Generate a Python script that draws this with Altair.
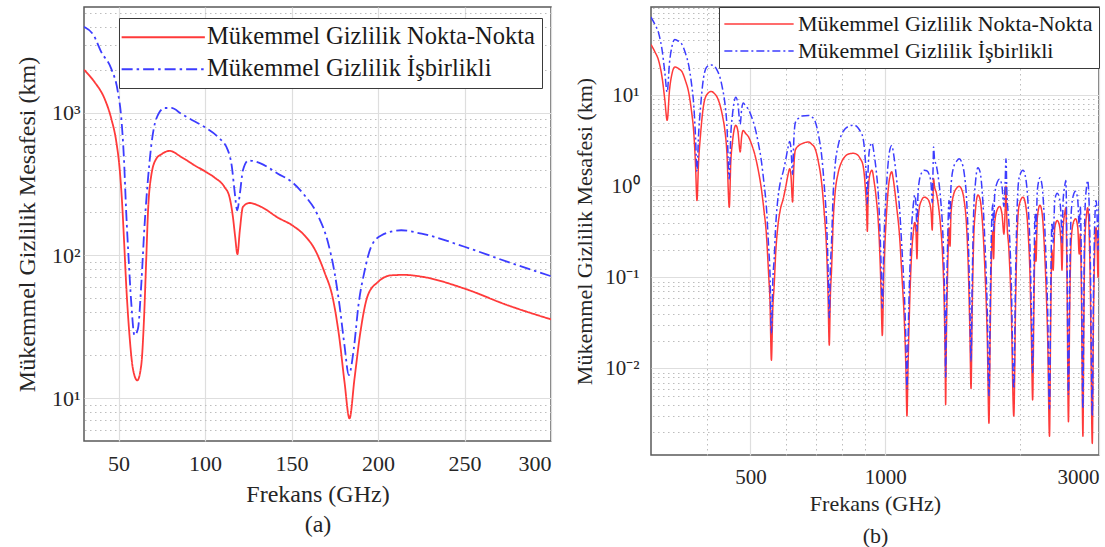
import altair as alt
import pandas as pd

SERIES = ["Mükemmel Gizlilik Nokta-Nokta", "Mükemmel Gizlilik İşbirlikli"]
RED = "#ff3a3a"
BLUE = "#3c3cff"
FONT = "Liberation Serif"
TXT = "#262626"

# ---------------- panel (a) data ----------------
a_red_f = [30, 36.1, 41.9, 45.8, 48.7, 50.6, 52.0, 53.1, 54.4, 56.3, 58.3, 60.8, 63.1, 64.7, 66.0,
           67.0, 68.9, 71.8, 74.7, 79.5, 86.2, 93.9, 99.7, 105.5, 111.2, 114.1, 116.1, 117.4,
           118.7, 120.1, 121.9, 125.7, 132.4, 142.1, 150.2, 157.5, 163.3, 169, 173.9, 177.7,
           180.6, 183.5, 186.4, 189.8, 194.1, 199.9, 207.6, 215.2, 225, 250, 275, 300]
a_red_v = [2000, 1641, 1254, 907, 623, 405, 237, 131, 62, 27.5, 16, 13.3, 17, 36, 95,
           201, 364, 476, 511, 540, 490, 428, 390, 351, 302, 257, 186, 135,
           102, 150, 219, 233, 219, 184, 163, 138, 111, 76.5, 49.8, 26,
           13, 7.2, 13.7, 29, 52.5, 65, 72.5, 73, 71, 58.5, 44.7, 35.6]
a_blue_f = [30, 35.5, 40, 45.8, 49.6, 51.6, 53.1, 54.4, 55.8, 57.3, 59.2, 61.2, 63.1, 65, 67,
            68.9, 71.8, 76.6, 80.4, 86.2, 90.1, 99.7, 107.4, 113.2, 115.5, 117, 118.6, 120.1,
            121.9, 125.1, 132.4, 142.1, 150.2, 157.5, 165.2, 171, 174.8, 177.7, 180.6, 183.1,
            186, 188.7, 192.1, 196, 201.8, 213.4, 225.2, 250, 275, 300]
a_blue_v = [4000, 3500, 2660, 2030, 1397, 907, 476, 201, 95, 47, 27.5, 30.6, 62, 162, 344,
            590, 907, 1079, 1080, 985, 922, 794, 676, 545, 417, 286, 207, 270,
            395, 463, 440, 374, 327, 264, 191, 124, 76.5, 45, 23.4, 14.5,
            22.2, 45, 76.5, 115, 138, 150, 142, 115, 90, 71.5]

# ---------------- panel (b) data ----------------
b_f = [300, 306, 312, 318, 322, 326, 330, 334, 339, 346, 352, 358, 364, 369, 374, 377, 380, 383,
       387, 393, 400, 409, 415, 421, 428, 433, 438, 443, 448.6, 452, 456, 464, 469, 474.5, 478,
       482, 488, 495, 503, 512, 520, 529, 536, 543, 549, 553, 557, 561, 565, 570, 575, 583, 592,
       600, 606, 612, 616, 621, 625, 630, 641, 652, 674, 685, 697, 710, 721, 730, 740, 745, 750,
       754, 759, 765, 772, 785, 799, 815, 833, 850, 869, 880, 892, 903, 908, 912, 916, 923, 934,
       945, 955, 965, 971, 978, 985, 992, 1005, 1015, 1022, 1034, 1042, 1049, 1060, 1076, 1090,
       1104, 1112, 1118, 1124, 1132, 1145, 1155, 1164, 1171, 1177, 1183, 1191, 1205, 1222, 1238,
       1254, 1266, 1273, 1278, 1282, 1288, 1300, 1315, 1330, 1343, 1353, 1360, 1364, 1369, 1378,
       1388, 1395, 1402, 1420, 1445, 1462, 1480, 1500, 1518, 1533, 1545, 1554, 1563, 1575, 1590,
       1610, 1628, 1648, 1668, 1690, 1704, 1716, 1728, 1738, 1745, 1755, 1780, 1800, 1822, 1840,
       1852, 1860, 1868, 1888, 1910, 1936, 1955, 1970, 1990, 2030, 2060, 2085, 2105, 2120, 2133,
       2146, 2160, 2170, 2185, 2215, 2240, 2262, 2285, 2305, 2326, 2340, 2355, 2370, 2390, 2420,
       2445, 2470, 2480, 2495, 2515, 2530, 2545, 2564, 2580, 2600, 2630, 2660, 2690, 2710, 2725,
       2740, 2762, 2775, 2790, 2815, 2830, 2850, 2870, 2898, 2915, 2935, 2955, 2970, 2985, 3000]
b_red_v = [36, 30, 24, 15, 9, 5.3, 11.5, 17, 20.4, 19.5, 18, 14.5, 10.8, 7, 3.7, 1.8, 0.70, 1.8,
           3.7, 7.7, 10.2, 11, 10.5, 9.6, 7.7, 6, 4.3, 2.4, 0.59, 1.8, 3.06, 4.67, 4.0, 2.38, 3.5,
           4.1, 3.8, 3.5, 2.9, 2.19, 1.55, 0.94, 0.55, 0.29, 0.11, 0.054, 0.0123, 0.045, 0.082, 0.2, 0.34, 0.55, 0.73,
           1.0, 1.3, 1.56, 1.3, 0.67, 1.6, 2.5, 2.8, 2.94, 3.06, 2.9, 2.6, 1.8, 1.1, 0.55, 0.19, 0.07, 0.018,
           0.06, 0.125, 0.4, 0.8, 1.4, 1.85, 2.15, 2.28, 2.3, 2.19, 2.0, 1.7, 0.94, 0.6, 0.32, 0.8, 1.32, 1.5,
           1.1, 0.73, 0.4, 0.22, 0.08, 0.023, 0.1, 0.44, 0.9, 1.21, 1.44, 1.2, 0.94, 0.6, 0.29, 0.1,
           0.03, 0.01, 0.003, 0.01, 0.04, 0.18, 0.31, 0.4, 0.32, 0.16, 0.4, 0.57, 0.7, 0.76, 0.74,
           0.67, 0.52, 0.33, 0.7, 1.21, 1.0, 0.85, 0.6, 0.35, 0.17, 0.06, 0.015, 0.004, 0.02, 0.12,
           0.35, 0.22, 0.5, 0.8, 0.96, 1.0, 0.93, 0.7, 0.38, 0.12, 0.025, 0.006, 0.04, 0.25, 0.55,
           0.8, 0.72, 0.4, 0.13, 0.02, 0.0025, 0.03, 0.2, 0.32, 0.16, 0.4, 0.56, 0.6, 0.5, 0.3,
           0.55, 1.0, 0.45, 0.2, 0.05, 0.003, 0.06, 0.3, 0.62, 0.76, 0.6, 0.3, 0.1, 0.02, 0.0045,
           0.04, 0.25, 0.15, 0.45, 0.62, 0.5, 0.25, 0.08, 0.02, 0.0018, 0.03, 0.2, 0.12, 0.35, 0.42,
           0.38, 0.22, 0.12, 0.35, 0.5, 0.58, 0.1, 0.0026, 0.04, 0.25, 0.4, 0.44, 0.35, 0.18, 0.3,
           0.08, 0.0018, 0.03, 0.25, 0.5, 0.58, 0.35, 0.07, 0.0015, 0.03, 0.2, 0.35, 0.25, 0.1, 0.35]
b_blue_v = [72, 60, 48, 30, 18, 10.8, 23, 34, 41, 39, 36, 29, 21.5, 14, 7.4, 3.6, 1.45, 3.6,
            7.4, 15.5, 20.5, 21.5, 21, 19, 15.5, 12, 8.6, 4.8, 1.2, 3.6, 6.1, 9.5, 8.0, 4.8, 7.0,
            8.2, 7.6, 7.0, 5.8, 4.4, 3.1, 1.9, 1.1, 0.58, 0.22, 0.11, 0.024, 0.09, 0.16, 0.4, 0.68, 1.1, 1.46,
            2.0, 2.6, 3.1, 2.6, 1.35, 3.2, 5.0, 5.6, 5.9, 6.0, 5.8, 5.2, 3.6, 2.2, 1.1, 0.38, 0.14, 0.036,
            0.12, 0.25, 0.8, 1.6, 2.8, 3.7, 4.3, 4.6, 4.7, 4.4, 4.0, 3.4, 1.9, 1.2, 0.64, 1.6, 2.6, 3.0,
            2.2, 1.46, 0.8, 0.44, 0.16, 0.046, 0.2, 0.88, 1.8, 2.4, 2.8, 2.4, 1.9, 1.2, 0.58, 0.2,
            0.06, 0.02, 0.006, 0.02, 0.08, 0.36, 0.62, 0.8, 0.64, 0.32, 0.8, 1.14, 1.4, 1.5, 1.48,
            1.34, 1.04, 0.66, 1.4, 2.7, 2.0, 1.7, 1.2, 0.7, 0.34, 0.12, 0.03, 0.008, 0.04, 0.24,
            0.7, 0.44, 1.0, 1.6, 1.9, 2.0, 1.86, 1.4, 0.76, 0.24, 0.05, 0.012, 0.08, 0.5, 1.1,
            1.6, 1.44, 0.8, 0.26, 0.04, 0.005, 0.06, 0.4, 0.64, 0.32, 0.8, 1.12, 1.2, 1.0, 0.6,
            1.1, 2.0, 0.9, 0.4, 0.1, 0.006, 0.12, 0.6, 1.24, 1.5, 1.2, 0.6, 0.2, 0.04, 0.009,
            0.08, 0.5, 0.3, 0.9, 1.24, 1.0, 0.5, 0.16, 0.04, 0.0036, 0.06, 0.4, 0.24, 0.7, 0.84,
            0.76, 0.44, 0.24, 0.7, 1.0, 1.16, 0.2, 0.0052, 0.08, 0.5, 0.8, 0.88, 0.7, 0.36, 0.6,
            0.16, 0.0036, 0.06, 0.5, 1.0, 1.16, 0.7, 0.14, 0.003, 0.06, 0.4, 0.7, 0.5, 0.2, 0.7]

# axis tick values
a_xticks = [50, 100, 150, 200, 250, 300]
a_yticks = [10, 100, 1000]
a_yminor = [6, 7, 8, 9, 20, 30, 40, 50, 60, 70, 80, 90, 200, 300, 400, 500, 600, 700, 800, 900,
            2000, 3000, 4000, 5000]
b_xticks = [500, 1000, 3000]
b_xminor = [400, 600, 700, 800, 900, 2000]
b_yticks = [0.01, 0.1, 1, 10]
b_yminor = [0.002, 0.003, 0.004, 0.005, 0.006, 0.007, 0.008, 0.009,
            0.02, 0.03, 0.04, 0.05, 0.06, 0.07, 0.08, 0.09,
            0.2, 0.3, 0.4, 0.5, 0.6, 0.7, 0.8, 0.9,
            2, 3, 4, 5, 6, 7, 8, 9, 20, 30, 40, 50, 60, 70, 80, 90]

df_a = pd.concat([
    pd.DataFrame({"f": a_red_f, "v": a_red_v, "series": SERIES[0]}),
    pd.DataFrame({"f": a_blue_f, "v": a_blue_v, "series": SERIES[1]}),
])
df_b = pd.concat([
    pd.DataFrame({"f": b_f, "v": b_red_v, "series": SERIES[0]}),
    pd.DataFrame({"f": b_f, "v": b_blue_v, "series": SERIES[1]}),
])


def panel(df, *, w, h, xscale, yscale, xticks, xminor, yticks, yminor, ylabel_expr,
          fs_tick, fs_title, fs_leg, dash, sw, leg, ylab_pad, ytitle_pad, xlab_pad,
          xtitle_pad, caption, cap_lh):
    legend = alt.Legend(
        title=None, orient="none", legendX=leg["x"], legendY=leg["y"],
        symbolType="M-4,0H4", symbolSize=leg["size"], symbolStrokeWidth=sw,
        symbolOffset=leg["soff"], labelOffset=leg["loff"],
        labelFont=FONT, labelFontSize=fs_leg, labelColor="#1a1a1a", labelLimit=600,
        rowPadding=leg["rp"], padding=leg["pad"], strokeColor="#3a3a3a",
        fillColor="white", cornerRadius=0,
    )
    color = alt.Color("series:N", scale=alt.Scale(domain=SERIES, range=[RED, BLUE]), legend=legend)
    sdash = alt.StrokeDash("series:N", scale=alt.Scale(domain=SERIES, range=[[1, 0], dash]),
                           legend=legend)
    major_x = alt.Axis(values=xticks, grid=True, gridColor="#dedede", gridWidth=1.2,
                       ticks=False, domain=False, labelFont=FONT, labelFontSize=fs_tick,
                       labelColor=TXT, labelPadding=xlab_pad, labelFlush=True, labelOverlap=False,
                       title=["Frekans (GHz)", caption], titleFont=FONT, titleFontSize=fs_title,
                       titleFontWeight="normal", titleColor=TXT, titlePadding=xtitle_pad,
                       titleLineHeight=cap_lh, format="d", minExtent=0)
    major_y = alt.Axis(values=yticks, grid=True, gridColor="#dedede", gridWidth=1.2,
                       ticks=False, domain=False, labelFont=FONT, labelFontSize=fs_tick,
                       labelColor=TXT, labelPadding=ylab_pad, labelExpr=ylabel_expr,
                       labelOverlap=False, title="Mükemmel Gizlilik Mesafesi (km)",
                       titleFont=FONT, titleFontSize=fs_title, titleFontWeight="normal",
                       titleColor=TXT, titlePadding=ytitle_pad, minExtent=0)
    minor_x = alt.Axis(orient="top", values=xminor, grid=True, gridColor="#bdbdbd",
                       gridDash=[1.5, 3.5], gridWidth=1, ticks=False, labels=False,
                       domain=False, title=None, minExtent=0, maxExtent=0, labelPadding=0)
    minor_y = alt.Axis(orient="right", values=yminor, grid=True, gridColor="#bdbdbd",
                       gridDash=[1.5, 3.5], gridWidth=1, ticks=False, labels=False,
                       domain=False, title=None, minExtent=0, maxExtent=0, labelPadding=0)

    base = alt.Chart(df)
    grid_layer = base.mark_line(opacity=0).encode(
        x=alt.X("f:Q", scale=xscale, axis=minor_x),
        y=alt.Y("v:Q", scale=yscale, axis=minor_y),
        detail="series:N",
    )
    lines = base.mark_line(interpolate="monotone", strokeWidth=sw, clip=True).encode(
        x=alt.X("f:Q", scale=xscale, axis=major_x),
        y=alt.Y("v:Q", scale=yscale, axis=major_y),
        color=color,
        strokeDash=sdash,
    )
    return alt.layer(grid_layer, lines).resolve_axis(x="independent", y="independent").properties(
        width=w, height=h)


chart_a = panel(
    df_a, w=467, h=434,
    xscale=alt.Scale(domain=[30, 300], nice=False, zero=False),
    yscale=alt.Scale(type="log", domain=[5, 5510], nice=False),
    xticks=a_xticks, xminor=[], yticks=a_yticks, yminor=a_yminor,
    ylabel_expr="datum.value >= 999 ? '10³' : datum.value >= 99 ? '10²' : '10¹'",
    fs_tick=22, fs_title=24, fs_leg=24.5, dash=[11, 4, 2.5, 4], sw=1.8,
    leg={"x": 35, "y": 11, "size": 433, "soff": 25, "loff": 31.5, "rp": 7, "pad": 7},
    ylab_pad=4, ytitle_pad=12, xlab_pad=12, xtitle_pad=8, caption="(a)", cap_lh=30,
)

chart_b = panel(
    df_b, w=448, h=448,
    xscale=alt.Scale(type="log", domain=[300, 3000], nice=False),
    yscale=alt.Scale(type="log", domain=[0.00112, 93], nice=False),
    xticks=b_xticks, xminor=b_xminor, yticks=b_yticks, yminor=b_yminor,
    ylabel_expr=("datum.value >= 9 ? '10¹' : datum.value >= 0.9 ? '10⁰' : "
                 "datum.value >= 0.09 ? '10⁻¹' : '10⁻²'"),
    fs_tick=21, fs_title=22, fs_leg=22, dash=[8, 3, 2, 3], sw=1.5,
    leg={"x": 68, "y": 0, "size": 300, "soff": 23, "loff": 28, "rp": 5, "pad": 6},
    ylab_pad=12, ytitle_pad=8, xlab_pad=11, xtitle_pad=6, caption="(b)", cap_lh=32,
)

chart = alt.hconcat(chart_a, chart_b, spacing=20).resolve_scale(
    color="independent", strokeDash="independent", x="independent", y="independent"
).configure(
    padding={"left": 14, "top": 5, "right": 0, "bottom": 0},
    background="white",
    font=FONT,
).configure_view(
    stroke="#5a5a5a", strokeWidth=1.5, fill="white"
)

chart.save("out.html", embed_options={"renderer": "svg", "actions": False})
